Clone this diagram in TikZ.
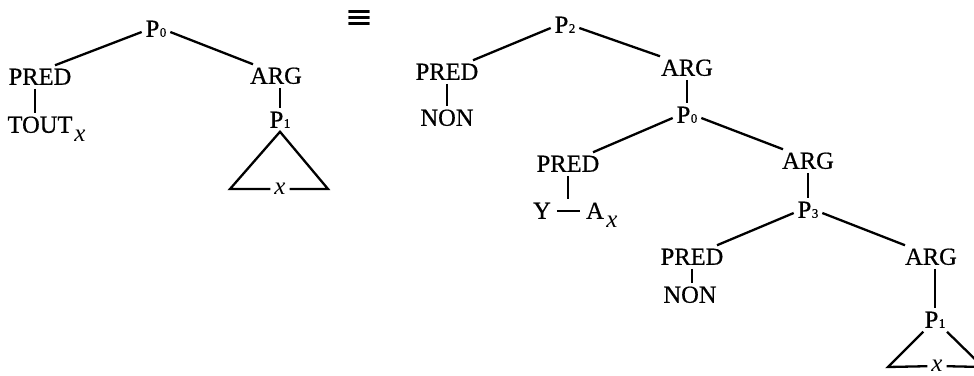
\documentclass[tikz,border=0pt]{standalone}
\usepackage{fontspec}
\setmainfont{Liberation Serif}
\newfontfamily\txtf{Liberation Serif}[FakeBold=0.6]
\newfontfamily\eqfont{DejaVu Serif}[FakeBold=0.8]
\newcommand\sbs[1]{{\fontsize{13}{13}\selectfont\kern0.5pt #1}}
\begin{document}
\begin{tikzpicture}[x=1pt,y=-1pt,
  lbl/.style={font=\txtf\fontsize{24.5}{26}\selectfont, inner sep=0pt, outer sep=4pt, text height=15.5pt, text depth=0pt},
  vx/.style={font=\rmfamily\itshape\fontsize{25}{26}\selectfont, inner sep=0pt, outer sep=4pt, text height=11pt, text depth=0pt},
  lnk/.style={line width=2.3pt}]
\clip (0,0) rectangle (974,375);
% left tree
\node[lbl] (p0l) at (156,29) {P\sbs{0}};
\node[lbl] (predl) at (40,77) {PRED};
\node[lbl] (argl) at (276,76) {ARG};
\node[lbl] (tout) at (40,125) {TOUT};
\node[vx] (toutx) at (80,136) {x};
\node[lbl] (p1l) at (280,120) {P\sbs{1}};
\node[vx] (xl) at (280,189) {x};
\coordinate (tlL) at (230,189);
\coordinate (trL) at (328,189);
\node[font=\eqfont\fontsize{33}{33}\selectfont, inner sep=0pt] (eq) at (359,19) {≡};
% right tree
\node[lbl] (p2) at (565,25) {P\sbs{2}};
\node[lbl] (predr1) at (447,72) {PRED};
\node[lbl] (non1) at (447,118) {NON};
\node[lbl] (argr1) at (687,68) {ARG};
\node[lbl] (p0r) at (687,115) {P\sbs{0}};
\node[lbl] (predr2) at (568,164) {PRED};
\node[lbl] (yy) at (542,211) {Y};
\node[lbl] (aa) at (595,211) {A};
\node[vx] (ax) at (612,222) {x};
\node[lbl] (argr2) at (808,161) {ARG};
\node[lbl] (p3) at (808,210) {P\sbs{3}};
\node[lbl] (predr3) at (692,257) {PRED};
\node[lbl] (non3) at (690,295) {NON};
\node[lbl] (argr3) at (931,257) {ARG};
\node[lbl] (p1r) at (935,320) {P\sbs{1}};
\node[vx] (xr) at (937,366) {x};
\coordinate (blR) at (888,367);
\coordinate (brR) at (983,367);
% left edges
\draw[lnk] ([yshift=-3pt]p0l.west) -- ([xshift=15pt]predl.north);
\draw[lnk] ([yshift=-3pt]p0l.east) -- ([xshift=-23pt]argl.north);
\draw[lnk] ([xshift=-5pt]tout.north |- predl.south) -- ([xshift=-5pt]tout.north);
\draw[lnk] (p1l |- argl.south) -- (p1l.north);
\draw[lnk] (xl) -- (tlL) -- (p1l.south) -- (trL) -- (xl);
% right edges
\draw[lnk] ([yshift=-3pt]p2.west) -- ([xshift=26pt]predr1.north);
\draw[lnk] ([yshift=-3pt]p2.east) -- ([xshift=-27pt]argr1.north);
\draw[lnk] (predr1.south) -- (non1.north);
\draw[lnk] (argr1.south) -- (p0r.north);
\draw[lnk] ([yshift=-3pt]p0r.west) -- ([xshift=25pt]predr2.north);
\draw[lnk] ([yshift=-3pt]p0r.east) -- ([xshift=-25pt]argr2.north);
\draw[lnk] (predr2.south) -- (predr2.south |- yy.north);
\draw[lnk, shorten <=2pt, shorten >=2pt] (yy) -- (aa);
\draw[lnk] (argr2.south) -- (p3.north);
\draw[lnk] ([yshift=-3pt]p3.west) -- ([xshift=25pt]predr3.north);
\draw[lnk] ([yshift=-3pt]p3.east) -- ([xshift=-26pt]argr3.north);
\draw[lnk] (predr3.south) -- (predr3.south |- non3.north);
\draw[lnk] (p1r |- argr3.south) -- (p1r.north);
\draw[lnk] (p1r) -- (blR) -- (xr);
\draw[lnk] (xr) -- (brR) -- (p1r);
\end{tikzpicture}
\end{document}
